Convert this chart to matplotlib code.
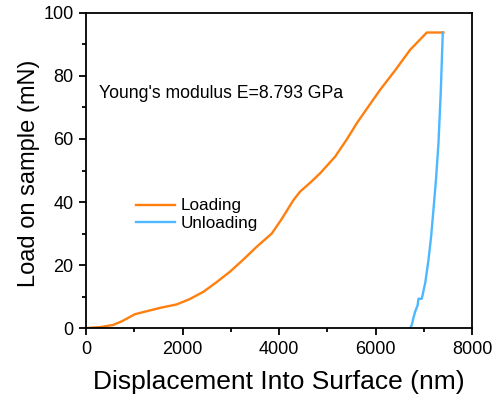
import matplotlib.pyplot as plt
import numpy as np

plt.rcParams['font.family'] = ['Liberation Sans', 'DejaVu Sans']

# loading curve (nm, mN)
load_x = [0, 300, 566, 750, 1016, 1300, 1534, 1879, 2150, 2432, 2700, 2984, 3250,
          3537, 3848, 4050, 4297, 4435, 4650, 4850, 5161, 5400, 5610, 5850, 6093,
          6400, 6715, 7061, 7405]
load_y = [0, 0.3, 1.0, 2.2, 4.4, 5.5, 6.4, 7.5, 9.2, 11.5, 14.5, 17.9, 21.6,
          25.8, 30.0, 34.5, 40.6, 43.3, 46.2, 49.1, 54.4, 59.8, 65.0, 70.3, 75.6,
          81.7, 88.3, 93.8, 93.8]

# unloading curve
unload_x = [7392, 7350, 7302, 7250, 7198, 7150, 7095, 7030, 6957, 6888, 6870,
            6819, 6780, 6750, 6715]
unload_y = [93.8, 75.0, 58.6, 47.0, 37.5, 29.0, 21.6, 14.5, 9.3, 9.3, 7.2,
            5.2, 3.0, 1.0, 0]

fig = plt.figure(figsize=(4.97, 4.05), dpi=100)
ax = fig.add_axes([0.173, 0.190, 0.777, 0.778])

ax.plot(load_x, load_y, color='#ff7f0e', lw=1.7, label='Loading')
ax.plot(unload_x, unload_y, color='#4db8ff', lw=1.7, label='Unloading')

ax.set_xlim(0, 8000)
ax.set_ylim(0, 100)
ax.set_xticks(np.arange(0, 8001, 2000))
ax.set_xticks(np.arange(1000, 8000, 2000), minor=True)
ax.set_yticks(np.arange(0, 101, 20))
ax.set_yticks(np.arange(10, 100, 20), minor=True)
ax.tick_params(which='major', direction='out', length=5, width=1.3, labelsize=13,
               pad=4, top=False, right=False)
ax.tick_params(which='minor', direction='out', length=3, width=1.3,
               top=False, right=False)
for s in ax.spines.values():
    s.set_linewidth(1.3)

ax.set_xlabel('Displacement Into Surface (nm)', fontsize=19, labelpad=9)
ax.set_ylabel('Load on sample (mN)', fontsize=17)
ax.yaxis.set_label_coords(-0.12, 0.49)

ax.text(276, 74.3, "Young's modulus E=8.793 GPa", fontsize=12.7, va='center')
ax.legend(loc='upper left', bbox_to_anchor=(0.09, 0.46), frameon=False,
          fontsize=12.3, handlelength=2.3, handletextpad=0.3, labelspacing=0.15)

fig.savefig('out.png', dpi=100)
